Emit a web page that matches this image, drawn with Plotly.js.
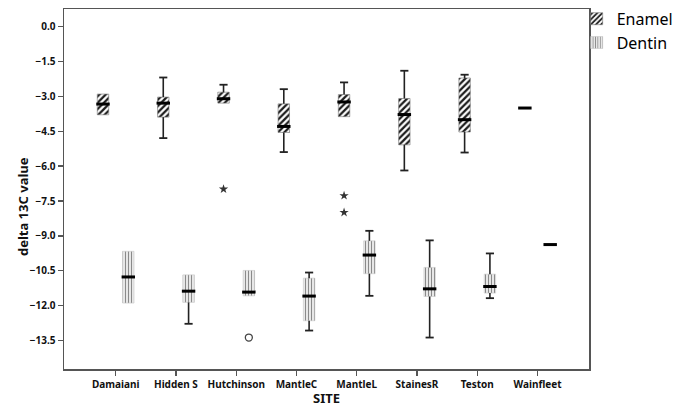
<!DOCTYPE html>
<html>
<head>
<meta charset="utf-8">
<script src="https://cdn.plot.ly/plotly-3.0.1.min.js"></script>
<style>html,body{margin:0;padding:0;background:#fff;}#chart{width:678px;height:407px;}</style>
</head>
<body>
<div id="chart"></div>
<script>
// ---- data ----
const sites = ['Damaiani', 'Hidden S', 'Hutchinson', 'MantleC', 'MantleL', 'StainesR', 'Teston', 'Wainfleet'];

const enamelLowerFence = [-3.80, -4.80, -3.30, -5.40, -3.88, -6.19, -5.42, -3.51];
const enamelQ1         = [-3.80, -3.90, -3.30, -4.56, -3.88, -5.09, -4.54, -3.51];
const enamelMedian     = [-3.34, -3.30, -3.11, -4.30, -3.25, -3.79, -4.01, -3.51];
const enamelQ3         = [-2.91, -3.04, -2.83, -3.33, -2.93, -3.10, -2.22, -3.51];
const enamelUpperFence = [-2.91, -2.20, -2.51, -2.70, -2.41, -1.91, -2.08, -3.51];

const dentinLowerFence = [-11.88, -12.77, -11.57, -13.06, -11.57, -13.36, -11.67, -9.37];
const dentinQ1         = [-11.88, -11.85, -11.57, -12.64, -10.62, -11.60, -11.45, -9.37];
const dentinMedian     = [-10.76, -11.37, -11.41, -11.58, -9.82, -11.27, -11.17, -9.37];
const dentinQ3         = [-9.66, -10.67, -10.48, -10.81, -9.21, -10.35, -10.64, -9.37];
const dentinUpperFence = [-9.66, -10.67, -10.48, -10.57, -8.78, -9.19, -9.75, -9.37];

// extreme values (stars) and outliers (circles)
const enamelExtremeSites  = ['Hutchinson', 'MantleL', 'MantleL'];
const enamelExtremeValues = [-6.99, -7.27, -7.99];
const dentinOutlierSites  = ['Hutchinson'];
const dentinOutlierValues = [-13.36];

// ---- styles / positions ----
const XRANGE = [-0.857, 7.854];
const BOXW = 0.19;
const OFF = {enamel: -0.21, dentin: 0.21};
const FONT = 'Noto Sans, DejaVu Sans, sans-serif';

function boxBar(name, q1, q3, off, pattern, lineColor) {
  return {
    type: 'bar', name: name, x: sites,
    y: q3.map((v, i) => v - q1[i]), base: q1,
    width: BOXW, offset: off - BOXW / 2,
    marker: {color: pattern.bgcolor, pattern: pattern, line: {color: lineColor, width: 0.6}},
    hoverinfo: 'skip', showlegend: true
  };
}

function whiskers(lf, q1, q3, uf, off) {
  const xs = [], ys = [], cx = [], cy = [];
  sites.forEach((s, i) => {
    const x = i + off;
    if (uf[i] > q3[i]) { xs.push(x, x, null); ys.push(q3[i], uf[i], null); cx.push(x); cy.push(uf[i]); }
    if (lf[i] < q1[i]) { xs.push(x, x, null); ys.push(q1[i], lf[i], null); cx.push(x); cy.push(lf[i]); }
  });
  return [
    {type: 'scatter', mode: 'lines', x: xs, y: ys, xaxis: 'x2', yaxis: 'y',
     line: {color: '#222', width: 1.6}, showlegend: false, hoverinfo: 'skip', connectgaps: false},
    {type: 'scatter', mode: 'markers', x: cx, y: cy, xaxis: 'x2', yaxis: 'y',
     marker: {symbol: 'line-ew', size: 5.8, line: {color: '#222', width: 1.8}},
     showlegend: false, hoverinfo: 'skip'}
  ];
}

function medians(med, off) {
  return {type: 'scatter', mode: 'markers', x: sites.map((s, i) => i + off), y: med,
    xaxis: 'x2', yaxis: 'y',
    marker: {symbol: 'line-ew', size: 9.6, line: {color: '#000', width: 3}},
    showlegend: false, hoverinfo: 'skip'};
}

const enamelPattern = {shape: '/', size: 4.5, solidity: 0.5, fgcolor: '#1c1c1c', bgcolor: '#ffffff'};
const dentinPattern = {shape: '|', size: 3, solidity: 0.4, fgcolor: '#8a8a8a', bgcolor: '#f2f2f2'};

const traces = [
  boxBar('Enamel', enamelQ1, enamelQ3, OFF.enamel, enamelPattern, '#777'),
  boxBar('Dentin', dentinQ1, dentinQ3, OFF.dentin, dentinPattern, '#c8c8c8'),
  ...whiskers(enamelLowerFence, enamelQ1, enamelQ3, enamelUpperFence, OFF.enamel),
  ...whiskers(dentinLowerFence, dentinQ1, dentinQ3, dentinUpperFence, OFF.dentin),
  medians(enamelMedian, OFF.enamel),
  medians(dentinMedian, OFF.dentin),
  {type: 'scatter', mode: 'markers', xaxis: 'x2', yaxis: 'y',
   x: enamelExtremeSites.map(s => sites.indexOf(s) + OFF.enamel), y: enamelExtremeValues,
   marker: {symbol: 'star', size: 7, color: '#333'}, showlegend: false, hoverinfo: 'skip'},
  {type: 'scatter', mode: 'markers', xaxis: 'x2', yaxis: 'y',
   x: dentinOutlierSites.map(s => sites.indexOf(s) + OFF.dentin), y: dentinOutlierValues,
   marker: {symbol: 'circle-open', size: 7, color: '#444', line: {width: 1.3, color: '#444'}},
   showlegend: false, hoverinfo: 'skip'}
];

const axisCommon = {
  showline: true, linecolor: '#555', linewidth: 1.5, mirror: true,
  ticks: 'outside', ticklen: 5, tickcolor: '#555', tickwidth: 1.2,
  showgrid: false, zeroline: false,
  tickfont: {family: FONT, size: 10, weight: 'bold', color: '#111'}
};

const layout = {
  width: 678, height: 407,
  margin: {l: 64, r: 89, t: 9, b: 38, autoexpand: false},
  paper_bgcolor: '#fff', plot_bgcolor: '#fff',
  barmode: 'overlay',
  showlegend: true,
  legend: {x: 0.9765, xanchor: 'left', y: 1.02, yanchor: 'top', bgcolor: 'rgba(0,0,0,0)',
           font: {family: FONT, size: 16, color: '#000'}, itemwidth: 30, tracegroupgap: 0},
  xaxis: Object.assign({}, axisCommon, {
    type: 'category', categoryorder: 'array', categoryarray: sites, range: XRANGE,
    title: {text: 'SITE', font: {family: FONT, size: 13, weight: 'bold', color: '#111'}, standoff: 4}
  }),
  xaxis2: {type: 'linear', overlaying: 'x', range: XRANGE, visible: false, showgrid: false, zeroline: false},
  yaxis: Object.assign({}, axisCommon, {
    range: [-14.71, 0.74], tick0: 0, dtick: 1.5, tickformat: '.1f'
  }),
  annotations: [{
    text: 'delta 13C value', textangle: -90, showarrow: false,
    xref: 'paper', yref: 'paper', x: -0.078, y: 0.45, xanchor: 'center', yanchor: 'middle',
    font: {family: FONT, size: 13, weight: 'bold', color: '#111'}
  }]
};

Plotly.newPlot('chart', traces, layout, {displayModeBar: false, staticPlot: true});
</script>
</body>
</html>
